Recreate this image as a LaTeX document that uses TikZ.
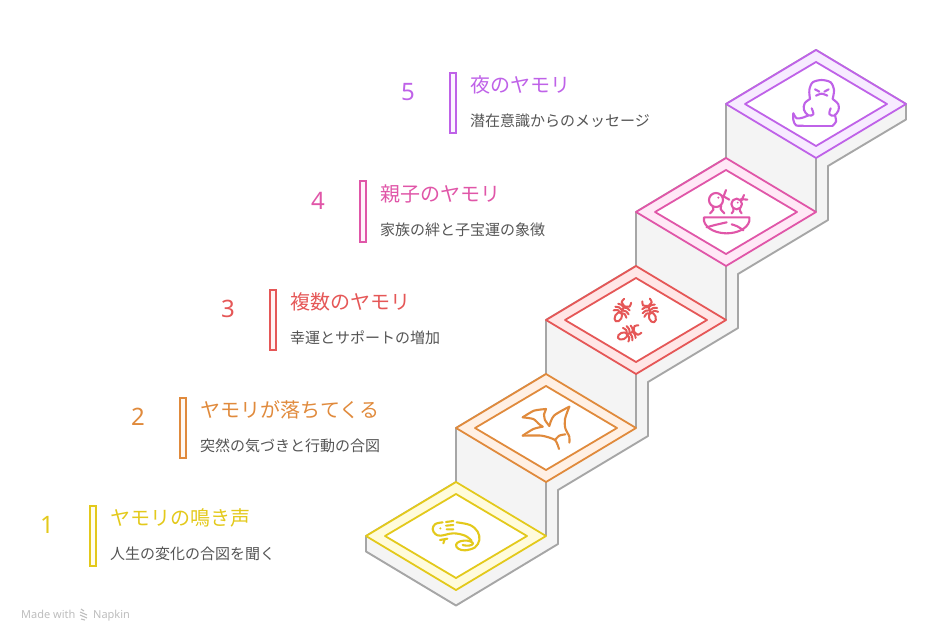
\documentclass[tikz,border=0pt]{standalone}
\usepackage{fontspec}
\setmainfont{Noto Sans CJK JP}
\newfontfamily\latinfont{Noto Sans}
\definecolor{c1}{HTML}{E3C91B}\definecolor{f1}{HTML}{FFFBDB}
\definecolor{c2}{HTML}{E08A3C}\definecolor{f2}{HTML}{FFF0E4}
\definecolor{c3}{HTML}{E55757}\definecolor{f3}{HTML}{FFE6E6}
\definecolor{c4}{HTML}{E056A8}\definecolor{f4}{HTML}{FFE8F6}
\definecolor{c5}{HTML}{BF62E8}\definecolor{f5}{HTML}{F7EBFF}
\definecolor{sidegray}{HTML}{F4F4F4}\definecolor{edgegray}{HTML}{A6A6A6}
\definecolor{subtext}{HTML}{555555}\definecolor{marktext}{HTML}{BDBDBD}
\tikzset{
 titletext/.style={anchor=base west,inner sep=0,font=\fontsize{20}{24}\selectfont},
 subtitletext/.style={anchor=base west,inner sep=0,text=subtext,font=\fontsize{15}{18}\selectfont},
 numtext/.style={anchor=base,inner sep=0,font=\latinfont\fontsize{24}{28}\selectfont},
 bar/.style={line width=2pt},
 edge/.style={draw=edgegray,line width=1.9pt,line join=round},
 plate/.style={line width=1.8pt,line join=round},
 icon/.style={line width=2.1pt,line cap=round,line join=round,fill=none},
}
\newcommand{\mybug}[4]{% x y rot color (zoom coordinates)
 \begin{scope}[shift={(#1,#2)},rotate=#3,icon,draw=#4,line width=2pt]
  \draw (0,24) ellipse [x radius=10,y radius=15];
  \draw (0,10) -- (0,-14);
  \draw plot[smooth] coordinates {(-22,14) (-12,7) (0,10) (12,7) (22,14)};
  \draw plot[smooth] coordinates {(-23,2) (-12,-2) (0,1) (12,-2) (23,2)};
  \draw plot[smooth] coordinates {(-20,-10) (-10,-12) (0,-9) (10,-12) (20,-10)};
  \draw plot[smooth] coordinates {(-3,-14) (-14,-20) (-12,-32)};
  \draw plot[smooth] coordinates {(3,-14) (14,-20) (12,-32)};
 \end{scope}}
\begin{document}
\begin{tikzpicture}[x=1pt,y=-1pt]
\useasboundingbox (0,0) rectangle (936,639);
% silhouette of stairs
\draw[edge,fill=sidegray] (366,536) -- (366,551.5) -- (456,605.5) -- (558,544) -- (558,490) -- (648,436) -- (648,382) -- (738,328) -- (738,274) -- (828,220) -- (828,166) -- (906,119.5) -- (906,104) -- (816,50) -- (726,104) -- (726,158) -- (636,212) -- (636,266) -- (546,320) -- (546,374) -- (456,428) -- (456,482) -- cycle;
\foreach \k/\x/\y in {2/456/428,3/546/320,4/636/212,5/726/104}{
  \draw[edge] (\x,\y) -- (\x,\y+54);
  \draw[edge] (\x+90,\y+54) -- (\x+90,\y+108);
}
% plates
\foreach \k/\x/\y in {1/366/536,2/456/428,3/546/320,4/636/212,5/726/104}{
  \draw[plate,draw=c\k,fill=f\k] (\x,\y) -- (\x+90,\y-54) -- (\x+180,\y) -- (\x+90,\y+54) -- cycle;
  \draw[plate,draw=c\k,fill=white] (\x+19,\y) -- (\x+90,\y-42) -- (\x+161,\y) -- (\x+90,\y+42) -- cycle;
  \draw[bar,draw=c\k,fill=f\k!50!white] (\x-276,\y-30.5) rectangle ++(6,60);
}
% labels
\node[numtext,text=c1] (n1) at (47,533) {1};
\node[numtext,text=c2] (n2) at (138,425) {2};
\node[numtext,text=c3] (n3) at (228,317) {3};
\node[numtext,text=c4] (n4) at (318,209) {4};
\node[numtext,text=c5] (n5) at (408,101) {5};
\node[titletext,text=c1] (t1) at (110,525) {ヤモリの鳴き声};
\node[titletext,text=c2] (t2) at (200,417) {ヤモリが落ちてくる};
\node[titletext,text=c3] (t3) at (290,309) {複数のヤモリ};
\node[titletext,text=c4] (t4) at (380,201) {親子のヤモリ};
\node[titletext,text=c5] (t5) at (470,93) {夜のヤモリ};
\node[subtitletext] (s1) at (110,559) {人生の変化の合図を聞く};
\node[subtitletext] (s2) at (200,451) {突然の気づきと行動の合図};
\node[subtitletext] (s3) at (290,343) {幸運とサポートの増加};
\node[subtitletext] (s4) at (380,235) {家族の絆と子宝運の象徴};
\node[subtitletext] (s5) at (470,127) {潜在意識からのメッセージ};
\node[anchor=base west,inner sep=0,text=marktext,font=\latinfont\fontsize{11}{12}\selectfont] (m1) at (21,618) {Made with};
\node[anchor=base west,inner sep=0,text=marktext,font=\latinfont\fontsize{11}{12}\selectfont] (m2) at (93,618) {Napkin};
\draw[marktext,line width=1.1pt] (81,609) -- (84,611) (80,612) -- (87,615) (80,615) -- (87,618) (81,619) -- (85,620);
% gecko
\begin{scope}[shift={(420,500)},scale=0.3333,icon,draw=c1]
 \draw plot[smooth,tension=.6] coordinates {(68,67) (46,72) (38,87) (46,102) (62,107) (100,100) (135,107) (155,122)};
 \draw plot[smooth,tension=.6] coordinates {(110,67) (150,75) (173,95) (178,120) (165,142) (135,151) (115,146) (108,134) (120,124) (142,122) (158,128) (155,135) (140,137) (128,135)};
 \draw (78,66) -- (100,63) (78,77) -- (100,75) (80,88) -- (100,88);
 \draw (60,120) -- (82,116) (70,130) -- (74,118);
 \fill[c1] (61,85) circle [radius=3.5];
\end{scope}
% pterodactyl
\begin{scope}[shift={(510,395)},scale=0.3333,icon,draw=c2]
 \draw plot[smooth,tension=.4] coordinates {(38,67) (72,47) (108,42)};
 \draw plot[smooth,tension=.4] coordinates {(102,58) (105,75) (118,93)};
 \draw (108,42) -- (102,58);
 \draw plot[smooth,tension=.5] coordinates {(118,93) (132,62) (178,35)};
 \draw plot[smooth,tension=.5] coordinates {(178,35) (165,72) (166,100) (178,125) (178,143)};
 \draw plot[smooth,tension=.4] coordinates {(38,67) (70,72) (88,88) (98,95)};
 \draw plot[smooth,tension=.4] coordinates {(98,95) (70,102) (38,122)};
 \draw plot[smooth,tension=.4] coordinates {(38,122) (95,122) (135,135) (147,162)};
 \draw plot[smooth,tension=.5] coordinates {(135,135) (148,122) (166,118)};
\end{scope}
% termites
\begin{scope}[shift={(600,290)},scale=0.3333]
 \mybug{67}{60}{-30}{c3}
 \mybug{149}{60}{20}{c3}
 \mybug{90}{129}{-68}{c3}
\end{scope}
% birds
\begin{scope}[shift={(690,185)},scale=0.3333,icon,draw=c4]
 \draw (78,45) circle [radius=21];
 \draw (108,15) -- (100,36) (97,32) -- (118,44);
 \fill[c4] (85,38) circle [radius=3.5];
 \draw plot[smooth,tension=.5] coordinates {(68,65) (70,74) (60,85)};
 \draw plot[smooth,tension=.5] coordinates {(94,62) (92,72) (103,85)};
 \draw (140,57) circle [radius=16];
 \draw (162,30) -- (155,46) (153,42) -- (172,44);
 \fill[c4] (143,53) circle [radius=3];
 \draw plot[smooth,tension=.5] coordinates {(130,71) (130,78) (125,85)};
 \draw plot[smooth,tension=.5] coordinates {(150,71) (150,78) (155,85)};
 \draw (42,97) -- (178,97) -- (178,108) .. controls (172,132) and (140,145) .. (110,145) .. controls (80,145) and (48,132) .. (42,108) -- cycle;
 \draw plot[smooth,tension=.5] coordinates {(50,127) (75,120) (110,112)};
 \draw plot[smooth,tension=.5] coordinates {(125,118) (142,124) (160,136)};
\end{scope}
% ghost gecko
\begin{scope}[shift={(780,75)},scale=0.3333,icon,draw=c5]
 \draw plot[smooth,tension=.5] coordinates {(90,72) (88,45) (98,22) (125,15) (152,22) (162,45) (158,72)};
 \draw plot[smooth,tension=.6] coordinates {(90,72) (74,85) (72,105) (85,121) (100,118) (95,100)};
 \draw plot[smooth,tension=.6] coordinates {(158,72) (175,88) (175,107) (162,122) (148,117) (152,100)};
 \draw plot[smooth,tension=.5] coordinates {(165,120) (168,140) (158,152)};
 \draw (158,152) -- (70,152);
 \draw plot[smooth,tension=.5] coordinates {(70,152) (48,151) (40,135) (40,115)};
 \draw plot[smooth,tension=.5] coordinates {(40,115) (50,130) (68,128) (85,121)};
 \draw (105,43) -- (118,50) (146,43) -- (133,50);
 \draw plot[smooth,tension=.5] coordinates {(108,62) (125,56) (142,62)};
\end{scope}
\end{tikzpicture}
\end{document}
